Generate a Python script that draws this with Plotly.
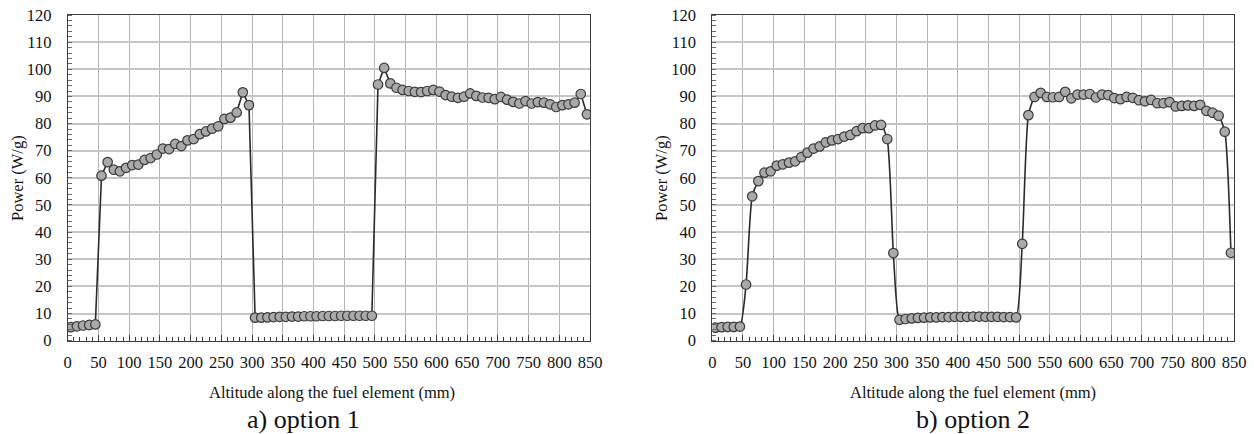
import plotly.graph_objects as go

altitude_mm = [5, 15, 25, 35, 45, 55, 65, 75, 85, 95, 105, 115, 125, 135, 145, 155, 165, 175, 185, 195,
               205, 215, 225, 235, 245, 255, 265, 275, 285, 295, 305, 315, 325, 335, 345, 355, 365, 375, 385, 395,
               405, 415, 425, 435, 445, 455, 465, 475, 485, 495, 505, 515, 525, 535, 545, 555, 565, 575, 585, 595,
               605, 615, 625, 635, 645, 655, 665, 675, 685, 695, 705, 715, 725, 735, 745, 755, 765, 775, 785, 795,
               805, 815, 825, 835, 845]

power_option1 = [5.0, 5.3, 5.6, 5.8, 6.0,
                 60.8, 65.8, 63.0, 62.4, 63.7, 64.7, 64.9, 66.6, 67.3, 68.6, 70.8, 70.6, 72.5, 71.7, 73.8,
                 74.3, 76.1, 77.1, 78.1, 79.0, 81.7, 82.2, 84.1, 91.5, 86.8,
                 8.5, 8.5, 8.6, 8.7, 8.8, 8.8, 8.9, 8.9, 9.0, 9.0, 9.0, 9.1, 9.1, 9.1, 9.2, 9.2, 9.2, 9.2, 9.2, 9.2,
                 94.4, 100.5, 94.8, 93.2, 92.4, 92.0, 91.7, 91.6, 92.0, 92.4, 91.8, 90.5, 89.9, 89.5, 89.9, 91.1,
                 90.2, 89.6, 89.5, 89.0, 89.8, 88.8, 88.0, 87.4, 88.3, 87.4, 87.9, 87.7, 87.1, 86.1, 86.8, 87.1,
                 87.7, 90.9, 83.4]

power_option2 = [4.8, 5.0, 5.1, 5.1, 5.2,
                 20.7, 53.2, 58.8, 61.9, 62.4, 64.5, 65.0, 65.6, 66.1, 67.6, 69.3, 70.8, 71.6, 73.1, 73.8,
                 74.3, 75.2, 75.8, 77.2, 78.3, 78.3, 79.3, 79.5, 74.3, 32.3,
                 7.7, 8.0, 8.2, 8.4, 8.5, 8.6, 8.6, 8.7, 8.7, 8.8, 8.8, 8.8, 8.9, 8.9, 8.8, 8.8, 8.8, 8.7, 8.7, 8.6,
                 35.7, 83.1, 89.8, 91.3, 89.8, 89.7, 89.8, 91.7, 89.3, 90.7, 90.7, 90.9, 89.6, 90.7, 90.5, 89.4,
                 89.0, 89.8, 89.5, 88.6, 88.2, 88.7, 87.5, 87.5, 87.9, 86.3, 86.5, 86.7, 86.5, 86.9, 84.7, 84.0,
                 82.9, 77.0, 32.4]

x_ticks = [0, 50, 100, 150, 200, 250, 300, 350, 400, 450, 500, 550, 600, 650, 700, 750, 800, 850]
y_ticks = [0, 10, 20, 30, 40, 50, 60, 70, 80, 90, 100, 110, 120]

x_title = "Altitude along the fuel element (mm)"
y_title = "Power (W/g)"
panel_titles = ["a) option 1", "b) option 2"]

W, H = 1254, 434
FONT = "Liberation Serif"

fig = go.Figure()

marker = dict(size=9.5, color="#a9a9a9", line=dict(color="#3a3a3a", width=1.2))

fig.add_trace(go.Scatter(x=altitude_mm, y=power_option1, mode="lines+markers",
                         line=dict(color="#2a2a2a", width=1.6),
                         marker=marker, xaxis="x", yaxis="y", showlegend=False))
fig.add_trace(go.Scatter(x=altitude_mm, y=power_option2, mode="lines+markers",
                         line=dict(color="#2a2a2a", width=1.6, shape="spline", smoothing=0.6),
                         marker=marker, xaxis="x2", yaxis="y2", showlegend=False))

def xaxis(domain, anchor):
    return dict(domain=domain, anchor=anchor, range=[0, 850], tickvals=x_ticks,
                showgrid=True, gridcolor="#b5b5b5", gridwidth=1,
                showline=True, linecolor="#3c3c3c", linewidth=1, mirror=True,
                ticks="inside", ticklen=6, tickcolor="#3c3c3c", tickwidth=1,
                minor=dict(dtick=10, tick0=0, ticks="inside", ticklen=4, tickcolor="#3c3c3c", showgrid=False),
                tickfont=dict(family=FONT, size=16.5, color="#111"),
                ticklabelstandoff=6, zeroline=False, fixedrange=True, automargin=False)

def yaxis(domain, anchor):
    return dict(domain=domain, anchor=anchor, range=[0, 120], tickvals=y_ticks,
                showgrid=True, gridcolor="#c6c6c6", gridwidth=1.6,
                showline=True, linecolor="#3c3c3c", linewidth=1, mirror=True,
                ticks="",
                minor=dict(dtick=2, tick0=0, ticks="inside", ticklen=4, tickcolor="#6a6a6a", showgrid=False),
                tickfont=dict(family=FONT, size=16.5, color="#111"),
                ticklabelstandoff=12, zeroline=False, fixedrange=True, automargin=False)

ydom = [1 - 340.7 / H, 1 - 15 / H]
fig.update_layout(
    width=W, height=H,
    margin=dict(l=0, r=0, t=0, b=0, autoexpand=False),
    paper_bgcolor="white", plot_bgcolor="white",
    font=dict(family=FONT, color="#111"),
    xaxis=xaxis([67.7 / W, 590 / W], "y"),
    yaxis=yaxis(ydom, "x"),
    xaxis2=xaxis([712.3 / W, 1234 / W], "y2"),
    yaxis2=yaxis(ydom, "x2"),
)

annotations = []
for cx_px, ytx_px, ptitle, title_cx in [(332, 17, panel_titles[0], 303), (973, 661, panel_titles[1], 973)]:
    annotations.append(dict(text=x_title, x=cx_px / W, y=1 - 392 / H, xref="paper", yref="paper",
                            showarrow=False, font=dict(family=FONT, size=16.5, color="#111"),
                            xanchor="center", yanchor="middle"))
    annotations.append(dict(text=ptitle, x=title_cx / W, y=1 - 419 / H, xref="paper", yref="paper",
                            showarrow=False, font=dict(family=FONT, size=26, color="#111"),
                            xanchor="center", yanchor="middle"))
    annotations.append(dict(text=y_title, x=ytx_px / W, y=1 - 178 / H, xref="paper", yref="paper",
                            showarrow=False, textangle=-90, font=dict(family=FONT, size=16.5, color="#111"),
                            xanchor="center", yanchor="middle"))
fig.update_layout(annotations=annotations)

fig.write_html("out.html",
               config={"displayModeBar": False},
               post_script="document.body.style.margin='0';document.body.style.overflow='hidden';")
